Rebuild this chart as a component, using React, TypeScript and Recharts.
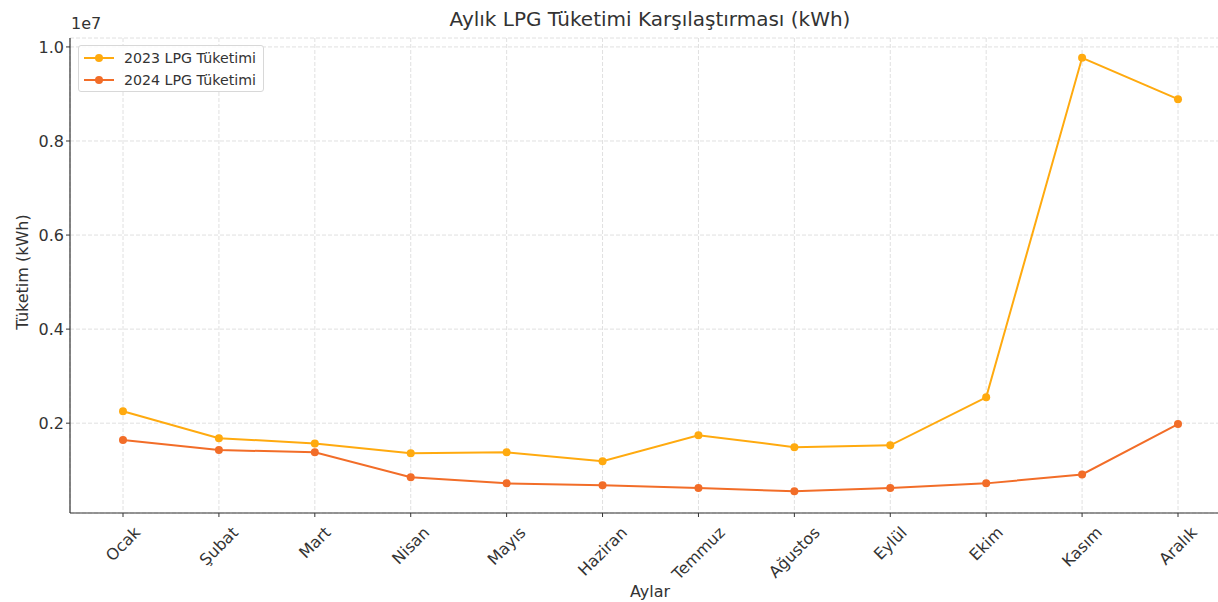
import { LineChart, Line, XAxis, YAxis, CartesianGrid } from "recharts";

const months = ["Ocak", "Şubat", "Mart", "Nisan", "Mayıs", "Haziran", "Temmuz", "Ağustos", "Eylül", "Ekim", "Kasım", "Aralık"];
const lpg2023 = [2255000, 1680000, 1570000, 1360000, 1380000, 1190000, 1745000, 1490000, 1530000, 2550000, 9770000, 8890000];
const lpg2024 = [1640000, 1430000, 1380000, 850000, 720000, 680000, 620000, 550000, 620000, 720000, 910000, 1980000];
const yTicks = [2000000, 4000000, 6000000, 8000000, 10000000];

const COLOR_2023 = "#FFAA0F";
const COLOR_2024 = "#F26D28";
const FONT = "'DejaVu Sans', sans-serif";
const TEXT = "#333";

const data = months.map((m, i) => ({ month: m, y2023: lpg2023[i], y2024: lpg2024[i] }));

let ctx: CanvasRenderingContext2D | null = null;
function textWidth(s: string, size: number) {
  if (!ctx) ctx = document.createElement("canvas").getContext("2d");
  if (!ctx) return s.length * size * 0.6;
  ctx.font = `${size}px 'DejaVu Sans'`;
  return ctx.measureText(s).width;
}

function MonthTick(props: any) {
  const { x, y, payload } = props;
  const size = 16;
  const w = textWidth(payload.value, size);
  const half = ((w + size) * 0.7071) / 2;
  const cy = y + 5 + half;
  return (
    <text
      x={x}
      y={cy}
      transform={`rotate(-45 ${x} ${cy})`}
      textAnchor="middle"
      dominantBaseline="central"
      fontSize={size}
      fontFamily={FONT}
      fill={TEXT}
    >
      {payload.value}
    </text>
  );
}

function LegendBox() {
  const rows = [
    { label: "2023 LPG Tüketimi", color: COLOR_2023 },
    { label: "2024 LPG Tüketimi", color: COLOR_2024 },
  ];
  return (
    <div
      style={{
        position: "absolute",
        left: 78,
        top: 45,
        width: 186,
        height: 47,
        border: "1px solid #d8d8d8",
        borderRadius: 3,
        background: "rgba(255,255,255,0.85)",
        fontSize: 14.2,
        color: TEXT,
        boxSizing: "border-box",
        paddingTop: 1,
      }}
    >
      {rows.map((r) => (
        <div key={r.label} style={{ display: "flex", alignItems: "center", height: 22 }}>
          <svg width={41} height={12} style={{ marginLeft: 4 }}>
            <line x1={1} y1={6} x2={31} y2={6} stroke={r.color} strokeWidth={2} />
            <circle cx={16} cy={6} r={4} fill={r.color} />
          </svg>
          <span style={{ whiteSpace: "nowrap" }}>{r.label}</span>
        </div>
      ))}
    </div>
  );
}

export default function App() {
  return (
    <div
      style={{
        position: "absolute",
        left: 0,
        top: 0,
        width: 1218,
        height: 602,
        overflow: "hidden",
        background: "#fff",
        fontFamily: FONT,
      }}
    >
      <div style={{ position: "absolute", left: 0, width: 1300, top: 7, textAlign: "center", fontSize: 20, color: TEXT }}>
        Aylık LPG Tüketimi Karşılaştırması (kWh)
      </div>
      <div style={{ position: "absolute", left: 71, top: 14, fontSize: 16, color: TEXT }}>1e7</div>
      <div
        style={{
          position: "absolute",
          left: 22,
          top: 272,
          transform: "translate(-50%, -50%) rotate(-90deg)",
          whiteSpace: "nowrap",
          fontSize: 16,
          color: TEXT,
        }}
      >
        Tüketim (kWh)
      </div>
      <div style={{ position: "absolute", left: 0, width: 1300, top: 582, textAlign: "center", fontSize: 16, color: TEXT }}>
        Aylar
      </div>
      <LineChart width={1232} height={602} data={data} margin={{ top: 38, right: 1, left: 0, bottom: 0 }}>
        <CartesianGrid stroke="#e0e0e0" strokeDasharray="4 2" />
        <XAxis
          dataKey="month"
          height={89}
          padding={{ left: 53, right: 53 }}
          interval={0}
          tick={<MonthTick />}
          tickLine={{ stroke: "#333" }}
          tickSize={4}
          axisLine={{ stroke: "#333", strokeWidth: 1.2 }}
        />
        <YAxis
          width={70}
          domain={[90000, 10190000]}
          ticks={yTicks}
          allowDataOverflow
          tickFormatter={(v: number) => (v / 1e7).toFixed(1)}
          tick={{ fontSize: 16, fontFamily: FONT, fill: TEXT }}
          tickLine={{ stroke: "#333" }}
          tickSize={4}
          axisLine={{ stroke: "#333", strokeWidth: 1.2 }}
        />
        <Line
          type="linear"
          dataKey="y2023"
          name="2023 LPG Tüketimi"
          stroke={COLOR_2023}
          strokeWidth={2}
          dot={{ r: 4, fill: COLOR_2023, stroke: COLOR_2023, strokeWidth: 0 }}
          isAnimationActive={false}
        />
        <Line
          type="linear"
          dataKey="y2024"
          name="2024 LPG Tüketimi"
          stroke={COLOR_2024}
          strokeWidth={2}
          dot={{ r: 4, fill: COLOR_2024, stroke: COLOR_2024, strokeWidth: 0 }}
          isAnimationActive={false}
        />
      </LineChart>
      <LegendBox />
    </div>
  );
}
